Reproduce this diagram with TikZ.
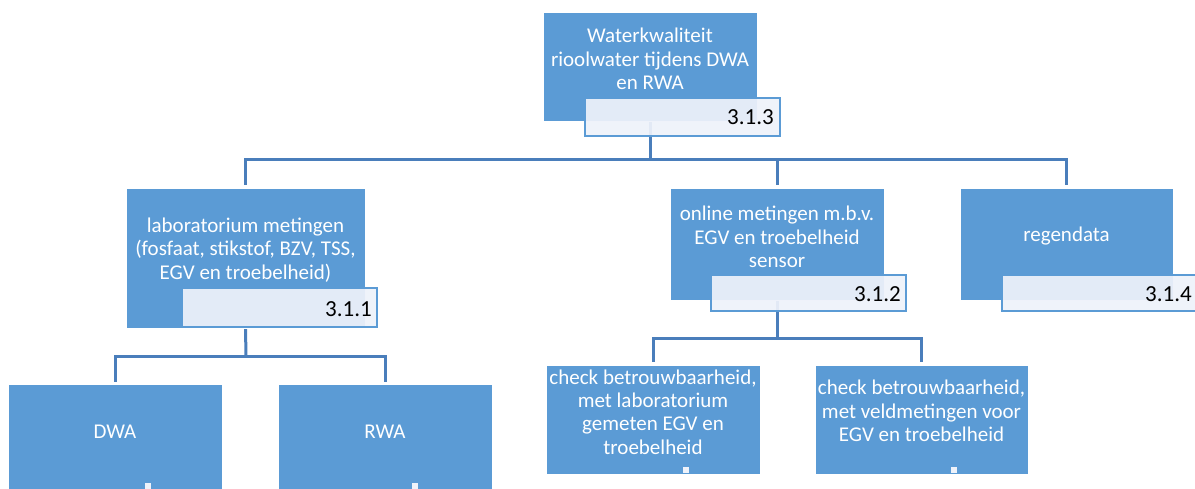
\documentclass[tikz,border=0pt]{standalone}
\usepackage{fontspec}
\setmainfont{Carlito}
\definecolor{boxblue}{HTML}{5B9BD5}
\definecolor{linkblue}{HTML}{4A7EBB}
\definecolor{subfill}{HTML}{EEF2FA}
\begin{document}
\begin{tikzpicture}[x=1pt,y=-1pt,
  box/.style={draw=white,line width=0.8pt,fill=boxblue,inner sep=0pt},
  subbox/.style={draw=boxblue,line width=1.8pt,fill=subfill,fill opacity=0.93,inner sep=0pt},
  txt/.style={text=white,align=center,font=\fontsize{21}{23.3}\selectfont,inner sep=0pt},
  num/.style={text=black,font=\fontsize{23}{25}\selectfont,inner sep=0pt,anchor=east},
  link/.style={draw=linkblue,line width=3pt},
  dot/.style={fill=subfill,draw=boxblue,line width=0.5pt,minimum size=7pt,inner sep=0pt}]
\useasboundingbox (0,0) rectangle (1195,489);
\clip (0,0) rectangle (1195,489);
% boxes (empty shapes), centres from pixel positions
\node[box,minimum width=214pt,minimum height=109pt] (top) at (650,66.5) {};
\node[box,minimum width=239pt,minimum height=140pt] (lab) at (245.5,258) {};
\node[box,minimum width=214pt,minimum height=112pt] (onl) at (777,244) {};
\node[box,minimum width=213pt,minimum height=112pt] (reg) at (1066.5,244) {};
\node[box,minimum width=214pt,minimum height=130pt] (dwa) at (115,449) {};
\node[box,minimum width=214pt,minimum height=130pt] (rwa) at (385,449) {};
\node[box,minimum width=214pt,minimum height=109pt] (chk1) at (653,419.5) {};
\node[box,minimum width=213pt,minimum height=109pt] (chk2) at (921.5,419.5) {};
% connectors
\coordinate (busA) at (650,160);
\coordinate (busB) at (246,356);
\coordinate (busC) at (777,338);
\draw[link] (top.south) -- (busA);
\draw[link,shorten >=3pt] (busA) -| (lab.north);
\draw[link,shorten >=3pt] (busA) -| (onl.north);
\draw[link,shorten >=3pt] (busA) -| (reg.north);
\draw[link] (lab.south) -- (busB);
\draw[link,shorten >=2pt] (busB) -| (dwa.north);
\draw[link,shorten >=2pt] (busB) -| (rwa.north);
\draw[link] (onl.south) -- ++(0,11) -- (busC);
\draw[link,shorten >=3pt] (busC) -| (chk1.north);
\draw[link,shorten >=3pt] (busC) -| (chk2.north);
% redraw boxes on top of connectors
\node[box,minimum width=214pt,minimum height=109pt] at (top) {};
\node[box,minimum width=239pt,minimum height=140pt] at (lab) {};
\node[box,minimum width=214pt,minimum height=112pt] at (onl) {};
% number boxes
\node[subbox,minimum width=195pt,minimum height=38pt] (topsub) at (682.5,117) {};
\node[subbox,minimum width=195pt,minimum height=39pt] (labsub) at (279.5,307.5) {};
\node[subbox,minimum width=195pt,minimum height=36pt] (onlsub) at (808.5,293) {};
\node[subbox,minimum width=213pt,minimum height=36pt] (regsub) at (1108.5,293) {};
\node[num] at (774,117) {3.1.3};
\node[num] at (372,309) {3.1.1};
\node[num] at (901,294) {3.1.2};
\node[num] at (1192,294) {3.1.4};
% texts
\node[txt] at (650,59) {Waterkwaliteit\\rioolwater tijdens DWA\\en RWA};
\node[txt] at (245.5,250) {laboratorium metingen\\(fosfaat, stikstof, BZV, TSS,\\EGV en troebelheid)};
\node[txt] at (777,237) {online metingen m.b.v.\\EGV en troebelheid\\sensor};
\node[txt] at (1066.5,236) {regendata};
\node[txt] at (115,432) {DWA};
\node[txt] at (385,432) {RWA};
\node[txt] at (653,412) {check betrouwbaarheid,\\met laboratorium\\gemeten EGV en\\troebelheid};
\node[txt] at (921.5,411) {check betrouwbaarheid,\\met veldmetingen voor\\EGV en troebelheid};
% small markers
\node[dot] (m1) at (148,486) {};
\node[dot] (m2) at (415,486) {};
\node[dot] (m3) at (686,470) {};
\node[dot] (m4) at (954,470) {};
\end{tikzpicture}
\end{document}
